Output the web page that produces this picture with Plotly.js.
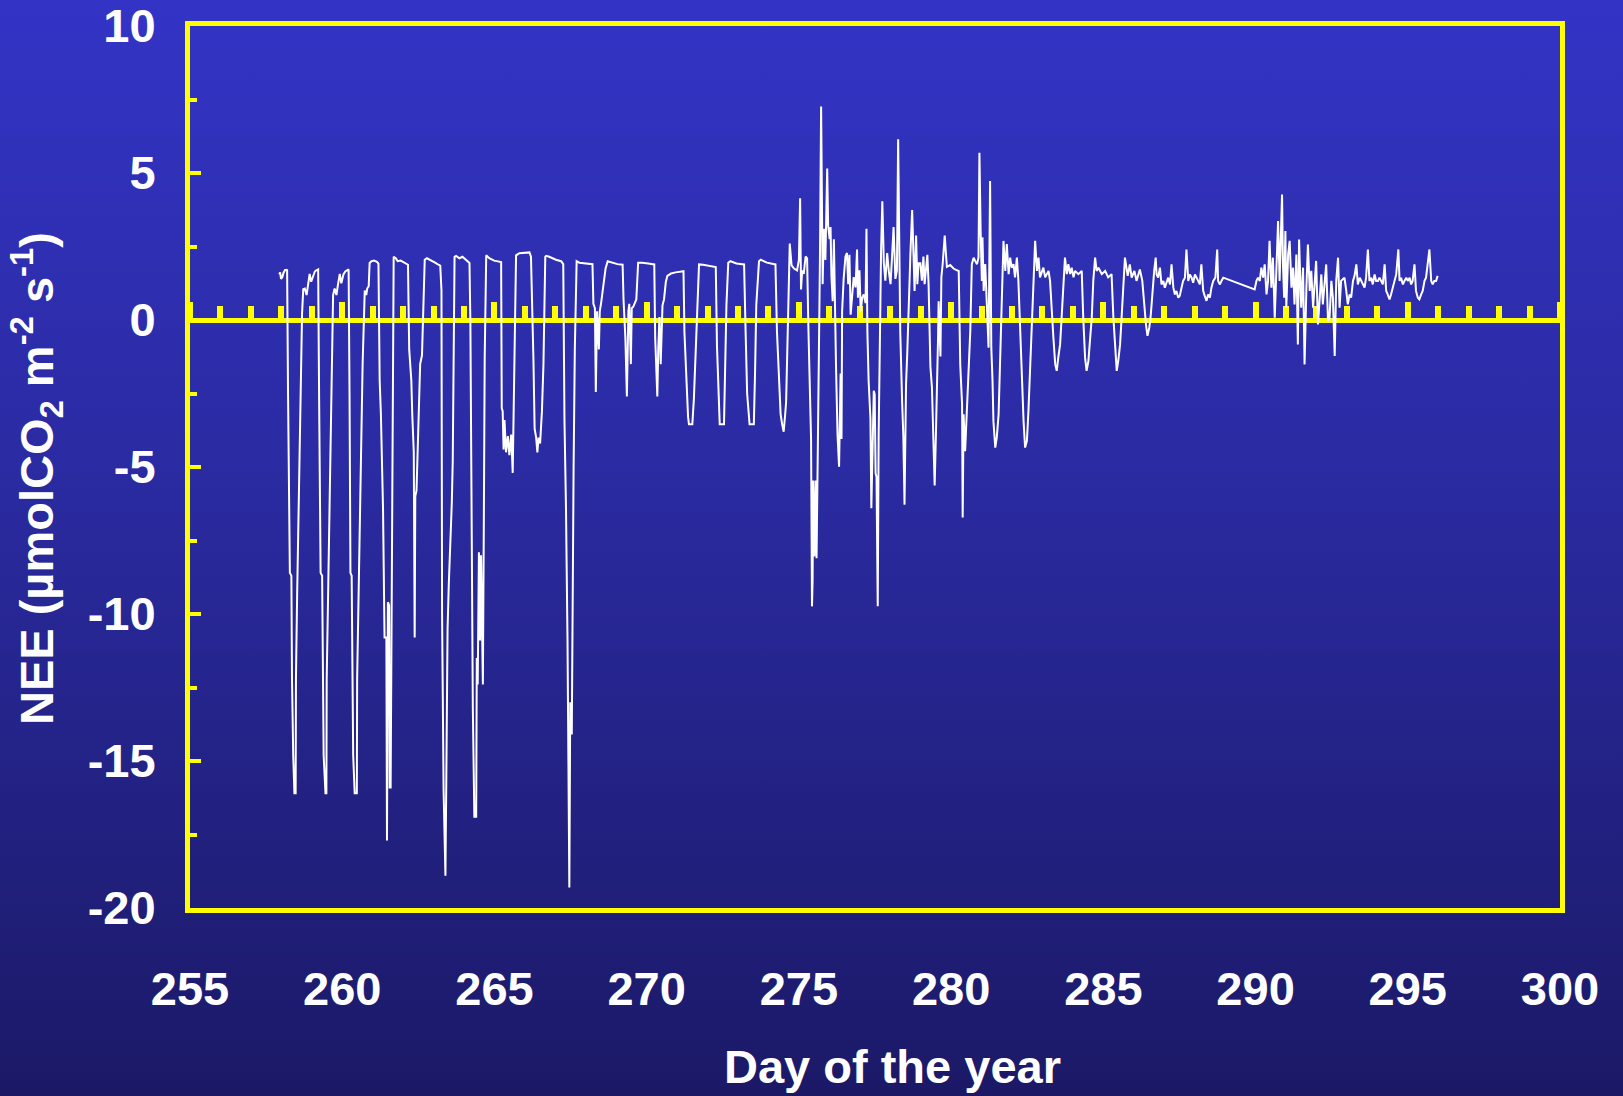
<!DOCTYPE html>
<html>
<head>
<meta charset="utf-8">
<script src="https://cdn.plot.ly/plotly-3.0.1.min.js"></script>
<style>
  html, body { margin: 0; padding: 0; }
  body {
    width: 1623px; height: 1096px; overflow: hidden;
    background: linear-gradient(to bottom, #3334c6 0%, #2a2aa0 45%, #1b1966 100%);
  }
  #chart { width: 1623px; height: 1096px; }
</style>
</head>
<body>
<div id="chart"></div>
<script>
// Half-hourly net ecosystem exchange, [day of year, NEE in µmol CO2 m-2 s-1]

// Days 258-263: strong midday uptake, nights around +1 to +2
const nightsEarly = [
  [257.93,1.55],[257.96,1.62],[257.99,1.40],[258.03,1.45],[258.07,1.60],[258.12,1.70],[258.17,1.70],
  [258.19,1.72],[258.22,-2.5],[258.28,-8.6],[258.33,-8.7],[258.35,-12.2],[258.39,-14.8],[258.43,-16.1],
  [258.47,-16.1],[258.48,-12.2],[258.52,-9.3],[258.58,-6.0],[258.63,-2.5],[258.68,0.2],[258.72,1.05],
  [258.77,1.07],[258.83,0.85],[258.88,1.15],[258.93,1.57],[258.98,1.30],[259.04,1.50],[259.10,1.65],
  [259.15,1.69],[259.21,1.72],[259.24,-2.5],[259.29,-8.6],[259.34,-8.7],[259.36,-12.2],[259.39,-14.8],
  [259.45,-16.1],[259.48,-16.1],[259.49,-12.2],[259.54,-9.3],[259.60,-5.5],[259.66,-1.5],[259.70,0.85],
  [259.75,1.07],[259.81,0.85],[259.86,1.20],[259.92,1.57],[259.97,1.25],[260.04,1.55],[260.10,1.65],
  [260.16,1.69],[260.21,1.72],[260.24,-2.5],[260.27,-8.6],[260.31,-8.7],[260.33,-12.2],[260.36,-14.8],
  [260.41,-16.1],[260.48,-16.1],[260.49,-12.2],[260.54,-9.3],[260.61,-5.0],[260.67,-1.5],[260.74,1.00],
  [260.79,0.85],[260.82,1.07],[260.87,1.15],[260.90,1.94],[260.96,2.00],[261.05,2.02],[261.14,1.98],
  [261.19,1.92],[261.23,-2.06],[261.27,-3.2],[261.34,-6.4],[261.39,-10.8],[261.45,-10.8],[261.47,-17.7],
  [261.50,-9.6],[261.54,-9.7],[261.56,-15.9],[261.59,-15.9],[261.64,-6.0],[261.69,2.15],[261.76,2.10],
  [261.82,2.00],[261.92,2.02],[262.05,1.95],[262.16,1.88],[262.20,-1.0],[262.27,-2.06],[262.30,-3.2],
  [262.35,-4.5],[262.38,-10.8],[262.40,-6.0],[262.44,-5.8],[262.49,-3.8],[262.56,-1.5],[262.62,-1.2],
  [262.67,0.5],[262.71,2.05],[262.78,2.10],[262.90,2.02],[263.05,1.95],[263.16,1.88],[263.22,1.85],
  [263.26,1.0],[263.28,-10.0],[263.33,-16.0],[263.39,-18.9],[263.42,-15.5],[263.46,-10.5],[263.50,-9.0],
  [263.55,-7.8],[263.60,-6.2],[263.63,-4.8],[263.66,-1.0],[263.69,2.15]
];

// Days 264-269
const nightsMid = [
  [263.74,2.18],[263.85,2.10],[263.95,2.15],[264.13,2.00],[264.18,1.94],[264.21,-0.1],[264.24,-4.4],
  [264.27,-11.4],[264.29,-13.2],[264.34,-16.9],[264.40,-16.9],[264.42,-11.5],[264.45,-12.4],[264.49,-7.9],
  [264.53,-10.9],[264.56,-8.0],[264.62,-12.4],[264.65,-7.1],[264.68,-1.3],[264.73,2.20],[264.83,2.10],
  [264.99,2.02],[265.16,2.00],[265.22,1.97],[265.24,-3.0],[265.27,-3.1],[265.30,-4.4],[265.33,-3.4],
  [265.38,-4.5],[265.44,-3.95],[265.49,-4.6],[265.55,-3.9],[265.60,-5.2],[265.66,-1.3],[265.71,2.20],
  [265.82,2.27],[266.15,2.30],[266.20,2.15],[266.26,-0.2],[266.28,-1.3],[266.32,-3.7],[266.37,-4.0],
  [266.41,-4.5],[266.45,-4.0],[266.50,-4.2],[266.56,-3.1],[266.61,-1.5],[266.67,2.15],[266.70,2.18],
  [266.80,2.15],[267.02,2.05],[267.19,2.00],[267.26,1.90],[267.30,-3.4],[267.35,-6.4],[267.40,-10.9],
  [267.46,-19.3],[267.49,-13.0],[267.54,-14.1],[267.57,-7.1],[267.60,-5.0],[267.64,-1.0],[267.70,2.00],
  [267.79,1.95],[268.00,1.92],[268.22,1.90],[268.25,0.55],[268.30,0.40],[268.33,-2.45],[268.37,0.30],
  [268.43,-1.00],[268.46,0.30],[268.50,0.55],[268.55,0.95],[268.60,1.40],[268.65,1.75],[268.72,2.00],
  [268.88,1.95],[269.04,1.90],[269.21,1.88],[269.24,0.70],[269.30,-0.6],[269.35,-2.6],[269.40,0.3],
  [269.43,0.55],[269.48,-1.5],[269.51,0.40],[269.56,0.45],[269.62,0.60],[269.66,0.70],[269.72,1.95]
];

// Days 270-274: weaker, flat-bottomed daytime uptake
const nightsCalm = [
  [269.85,1.95],[270.05,1.92],[270.25,1.89],[270.28,-0.6],[270.35,-2.6],[270.38,-1.0],[270.42,0.1],
  [270.46,-1.5],[270.52,0.5],[270.57,0.7],[270.63,1.3],[270.68,1.50],[270.80,1.58],[270.95,1.62],
  [271.17,1.67],[271.21,1.66],[271.24,-0.4],[271.30,-2.0],[271.36,-3.3],[271.39,-3.55],[271.50,-3.55],
  [271.55,-2.7],[271.62,-0.5],[271.67,1.0],[271.72,1.89],[271.85,1.88],[272.05,1.85],[272.27,1.80],
  [272.31,-0.9],[272.36,-2.5],[272.40,-3.55],[272.54,-3.55],[272.58,-1.8],[272.62,0.5],[272.68,1.95],
  [272.75,2.00],[272.95,1.92],[273.20,1.89],[273.25,-0.4],[273.30,-2.5],[273.38,-3.55],[273.52,-3.55],
  [273.56,-1.8],[273.60,0.5],[273.69,2.00],[273.75,2.05],[273.95,1.95],[274.23,1.89],[274.28,-0.4],
  [274.40,-3.2],[274.45,-3.55],[274.50,-3.8],[274.55,-3.2],[274.58,-2.8],[274.62,-1.0],[274.66,1.2],
  [274.70,2.6]
];

// Days 275-285: turbulent period with large positive and negative excursions
const nightsActive = [
  [274.76,1.86],[274.84,1.75],[274.94,1.69],[275.00,2.04],[275.04,4.14],[275.07,1.04],[275.11,1.69],
  [275.16,1.57],[275.22,2.16],[275.27,2.10],[275.31,-0.18],[275.35,-1.82],[275.40,-4.05],[275.43,-9.74],
  [275.45,-8.86],[275.47,-5.46],[275.51,-8.04],[275.55,-5.46],[275.58,-8.1],[275.62,-4.52],[275.66,-1.59],
  [275.69,1.93],[275.73,7.26],[275.78,1.22],[275.82,3.10],[275.87,2.04],[275.93,5.15],[275.96,3.22],
  [276.01,2.75],[276.04,3.16],[276.07,1.46],[276.11,0.64],[276.15,2.75],[276.18,0.53],[276.22,-1.59],
  [276.27,-3.93],[276.32,-4.99],[276.37,-1.82],[276.40,-4.05],[276.42,0.29],[276.47,1.40],[276.53,2.16],
  [276.58,2.28],[276.62,1.22],[276.66,2.22],[276.70,0.18],[276.75,0.99],[276.80,1.46],[276.86,1.11],
  [276.91,2.40],[276.94,0.76],[276.99,1.69],[277.03,0.29],[277.08,0.76],[277.13,0.87],[277.19,0.58],
  [277.22,3.10],[277.25,-0.42],[277.29,-2.06],[277.35,-3.35],[277.38,-6.40],[277.43,-3.93],[277.46,-2.41],
  [277.49,-2.53],[277.52,-5.22],[277.55,-5.34],[277.59,-9.74],[277.62,-3.93],[277.66,-0.42],[277.70,2.40],
  [277.74,4.04],[277.79,1.93],[277.84,1.34],[277.90,2.28],[277.95,1.69],[278.01,1.22],[278.06,2.16],
  [278.11,3.16],[278.17,1.40],[278.22,1.69],[278.26,6.15],[278.30,1.22],[278.33,-0.42],[278.39,-2.76],
  [278.43,-3.93],[278.47,-6.28],[278.52,-2.18],[278.56,-1.12],[278.61,0.99],[278.66,2.16],[278.72,3.74],
  [278.76,2.16],[278.80,0.99],[278.85,2.87],[278.89,1.22],[278.93,1.93],[278.99,1.93],[279.04,1.34],
  [279.09,2.16],[279.13,1.22],[279.17,1.81],[279.22,2.22],[279.26,1.22],[279.32,-1.59],[279.37,-2.29],
  [279.415,-3.93],[279.46,-5.63],[279.50,-3.93],[279.54,-2.53],[279.57,-0.65],[279.59,0.64],[279.65,-1.24],
  [279.68,1.46],[279.72,1.87],[279.79,2.87],[279.86,1.81],[279.97,1.87],[280.08,1.75],[280.19,1.69],
  [280.25,1.67],[280.30,-1.51],[280.36,-2.87],[280.38,-6.72],[280.41,-3.21],[280.46,-4.46],[280.52,-2.98],
  [280.57,-1.73],[280.63,-0.37],[280.68,1.90],[280.74,2.12],[280.79,2.01],[280.85,1.90],[280.90,2.12],
  [280.93,5.69],[280.97,3.03],[281.01,1.33],[281.03,2.81],[281.07,0.99],[281.12,1.90],[281.18,0.19],
  [281.23,-0.94],[281.28,4.73],[281.32,-0.94],[281.36,-2.07],[281.39,-3.44],[281.45,-4.34],[281.50,-4.0],
  [281.56,-3.21],[281.61,-1.51],[281.67,0.76],[281.72,2.69],[281.78,1.67],[281.83,2.58],[281.89,1.56],
  [281.94,2.12],[281.99,1.78],[282.05,1.90],[282.10,1.45],[282.16,2.12],[282.21,1.33],[282.27,-0.60],
  [282.32,-2.07],[282.38,-3.44],[282.43,-4.34],[282.49,-4.11],[282.54,-3.09],[282.60,-1.51],[282.65,0.19],
  [282.70,1.67],[282.76,2.69],[282.82,1.67],[282.87,2.12],[282.92,1.45],[282.98,1.67],[283.03,1.78],
  [283.09,1.45],[283.14,1.56],[283.20,1.67],[283.25,1.33],[283.31,0.08],[283.36,-0.60],[283.42,-1.51],
  [283.47,-1.73],[283.52,-1.28],[283.58,-0.83],[283.63,0.08],[283.69,1.10],[283.74,2.12],[283.80,1.56],
  [283.85,1.90],[283.91,1.56],[283.96,1.78],[284.02,1.45],[284.07,1.67],[284.18,1.56],[284.29,1.67],
  [284.34,0.08],[284.40,-1.28],[284.45,-1.73],[284.51,-1.39],[284.56,-0.71],[284.62,0.08],[284.67,1.33],
  [284.73,2.12],[284.78,1.67],[284.84,1.78],[284.95,1.56],[285.06,1.67],[285.16,1.45],[285.27,1.56],
  [285.33,0.08],[285.38,-0.94],[285.44,-1.73],[285.49,-1.39],[285.55,-0.83],[285.60,0.08],[285.71,2.12]
];

// Days 286-296: small fluxes, gap on day 289
const nightsLate = [
  [285.80,1.50],[285.87,1.89],[285.93,1.44],[286.02,1.67],[286.09,1.33],[286.20,1.72],[286.28,1.33],
  [286.34,0.42],[286.40,-0.15],[286.45,-0.54],[286.51,-0.26],[286.56,0.19],[286.62,1.10],[286.67,1.67],
  [286.72,2.12],[286.75,1.55],[286.80,1.44],[286.86,1.78],[286.91,1.21],[286.97,1.33],[287.02,1.10],
  [287.08,1.33],[287.13,1.44],[287.19,1.21],[287.24,1.89],[287.30,1.10],[287.35,0.87],[287.40,0.99],
  [287.46,0.76],[287.51,0.82],[287.57,1.10],[287.62,1.33],[287.68,1.44],[287.73,2.40],[287.79,1.33],
  [287.84,1.55],[287.90,1.44],[287.95,1.27],[288.01,1.55],[288.06,1.44],[288.12,1.27],[288.17,1.21],
  [288.22,1.89],[288.28,0.99],[288.33,0.82],[288.39,0.65],[288.44,0.87],[288.50,0.76],[288.55,1.10],
  [288.61,1.33],[288.68,1.44],[288.74,2.40],[288.77,1.33],[288.83,1.21],[288.88,1.33],[288.94,1.44],
  [289.97,1.04],[290.03,1.33],[290.08,1.44],[290.14,1.33],[290.19,1.78],[290.25,1.44],[290.30,1.89],
  [290.36,0.87],[290.41,1.33],[290.46,2.69],[290.52,1.10],[290.57,2.12],[290.63,0.08],[290.68,1.55],
  [290.74,3.37],[290.79,1.33],[290.83,2.80],[290.87,4.27],[290.90,1.89],[290.94,0.76],[290.98,3.03],
  [291.01,0.42],[291.07,2.23],[291.12,2.69],[291.18,1.10],[291.23,1.78],[291.28,0.53],[291.34,2.23],
  [291.39,-0.83],[291.43,2.74],[291.47,1.33],[291.50,0.42],[291.56,1.78],[291.61,-1.51],[291.67,1.10],
  [291.72,2.57],[291.78,0.99],[291.83,1.67],[291.89,0.42],[291.94,1.33],[291.99,2.01],[292.05,-0.15],
  [292.10,0.76],[292.16,1.55],[292.21,0.53],[292.27,1.33],[292.32,1.89],[292.38,-0.03],[292.43,0.08],
  [292.49,1.33],[292.54,0.76],[292.60,-1.22],[292.65,1.33],[292.71,2.12],[292.76,0.42],[292.81,1.33],
  [292.92,1.44],[292.98,0.99],[293.03,0.53],[293.09,0.87],[293.14,0.76],[293.20,1.33],[293.25,1.50],
  [293.31,1.89],[293.36,1.21],[293.42,1.44],[293.47,1.33],[293.58,1.10],[293.63,1.44],[293.69,2.40],
  [293.74,1.33],[293.80,1.44],[293.85,1.21],[293.91,1.55],[293.96,1.33],[294.02,1.33],[294.07,1.44],
  [294.13,1.33],[294.18,1.21],[294.24,1.89],[294.29,0.99],[294.34,0.87],[294.40,0.70],[294.45,0.87],
  [294.51,1.10],[294.56,1.33],[294.62,1.55],[294.69,2.40],[294.73,1.33],[294.78,1.44],[294.84,1.21],
  [294.89,1.33],[294.95,1.44],[295.00,1.33],[295.06,1.44],[295.11,1.21],[295.16,1.33],[295.22,1.89],
  [295.27,0.99],[295.33,0.76],[295.38,0.70],[295.44,0.87],[295.49,0.99],[295.55,1.33],[295.60,1.44],
  [295.71,2.40],[295.77,1.33],[295.82,1.21],[295.87,1.33],[295.93,1.33],[295.98,1.50]
];

// Axis extents and labels
const dayRange = [255, 300];
const neeRange = [-20, 10];
const neeTickVals = [-20, -15, -10, -5, 0, 5, 10];
const neeTickText = ['-20', '-15', '-10', '-5', '0', '5', '10'];
const xTitle = 'Day of the year';
const yTitle = 'NEE (µmolCO<sub>2</sub> m<sup>-2</sup> s<sup>-1</sup>)';

const series = [].concat(nightsEarly, nightsMid, nightsCalm, nightsActive, nightsLate);
const days = series.map(p => p[0]);
const nee = series.map(p => p[1]);

const yellow = '#ffff00';
const fontFamily = '"Liberation Sans", Arial, Helvetica, sans-serif';
const titleFont = { size: 47, color: '#ffffff', weight: 'bold', family: fontFamily };

const traces = [
  {
    type: 'scatter',
    mode: 'lines',
    x: days,
    y: nee,
    line: { color: '#ffffff', width: 2 },
    hoverinfo: 'x+y',
    showlegend: false
  },
  // empty trace that binds the zero-line day axis so its ticks are drawn
  {
    type: 'scatter',
    mode: 'lines',
    x: [],
    y: [],
    xaxis: 'x2',
    yaxis: 'y',
    hoverinfo: 'skip',
    showlegend: false
  }
];

// fraction of the plot height where NEE = 0, used to place the day ticks on the zero line
const zeroFrac = (0 - neeRange[0]) / (neeRange[1] - neeRange[0]);

const layout = {
  width: 1623,
  height: 1096,
  paper_bgcolor: 'rgba(0,0,0,0)',
  plot_bgcolor: 'rgba(0,0,0,0)',
  margin: { l: 190, r: 63, t: 26, b: 188 },
  font: { family: fontFamily, color: '#ffffff' },
  showlegend: false,
  xaxis: {
    range: dayRange,
    tickmode: 'linear', tick0: 255, dtick: 5,
    ticks: '',
    showgrid: false, zeroline: false,
    showline: true, mirror: true, linecolor: yellow, linewidth: 5,
    tickfont: { size: 47, color: '#ffffff', weight: 'bold', family: fontFamily },
    ticklabelstandoff: 36,
    ticklabeloverflow: 'allow',
    automargin: false
  },
  yaxis: {
    range: neeRange,
    tickmode: 'array', tickvals: neeTickVals, ticktext: neeTickText,
    ticks: 'inside', ticklen: 11, tickwidth: 4, tickcolor: yellow,
    minor: { tickmode: 'linear', tick0: 0, dtick: 2.5, ticks: 'inside', ticklen: 7, tickwidth: 4, tickcolor: yellow, showgrid: false },
    showgrid: false,
    zeroline: true, zerolinecolor: yellow, zerolinewidth: 5,
    showline: true, mirror: true, linecolor: yellow, linewidth: 5,
    tickfont: { size: 47, color: '#ffffff', weight: 'bold', family: fontFamily },
    ticklabelstandoff: 20,
    ticklabeloverflow: 'allow',
    automargin: false
  },
  xaxis2: {
    overlaying: 'x', anchor: 'free', position: zeroFrac, side: 'top',
    range: dayRange,
    tickmode: 'linear', tick0: 255, dtick: 5,
    ticks: 'outside', ticklen: 18, tickwidth: 6, tickcolor: yellow,
    minor: { tickmode: 'linear', tick0: 255, dtick: 1, ticks: 'outside', ticklen: 14, tickwidth: 6, tickcolor: yellow, showgrid: false },
    showticklabels: false, showline: false, showgrid: false, zeroline: false,
    layer: 'below traces'
  },
  // axis titles placed as paper annotations for exact positioning
  annotations: [
    {
      text: xTitle, font: titleFont,
      xref: 'paper', yref: 'paper', x: 0.5, y: 0,
      xanchor: 'center', yanchor: 'middle', xshift: 17, yshift: -158,
      showarrow: false
    },
    {
      text: yTitle, font: titleFont, textangle: -90,
      xref: 'paper', yref: 'paper', x: 0, y: 0.5,
      xanchor: 'center', yanchor: 'middle', xshift: -154, yshift: -12,
      showarrow: false
    }
  ]
};

Plotly.newPlot('chart', traces, layout, { staticPlot: true, displayModeBar: false });
</script>
</body>
</html>
